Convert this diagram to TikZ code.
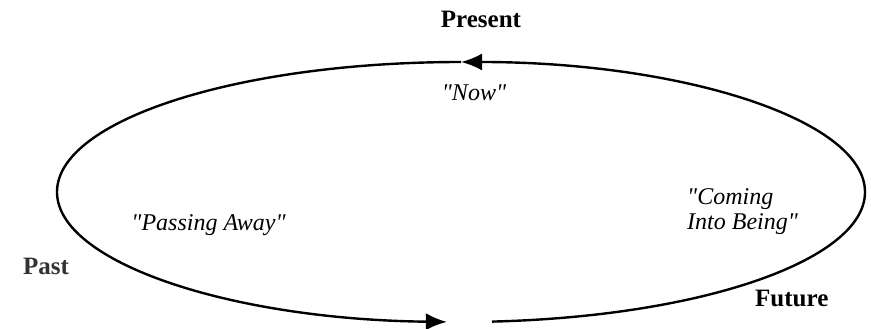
\documentclass[tikz,border=0pt]{standalone}
\usepackage{fontspec}
\setmainfont{Liberation Serif}[Ligatures=TeXOff]
\usetikzlibrary{arrows.meta}

\begin{document}
\begin{tikzpicture}[
  x=1pt, y=1pt,
  tense/.style={font=\fontsize{25}{28}\selectfont\bfseries, anchor=base, inner sep=0pt},
  saying/.style={font=\fontsize{24}{25}\selectfont\itshape, inner sep=0pt},
  cycle/.style={line width=2.4pt, -{Latex[length=21pt,width=17pt]}}
]
\useasboundingbox (0,0) rectangle (871,329);
% the round of time
\coordinate (futureend) at (492,7.4);
\coordinate (presentpt) at (461,267);
\draw[cycle] (futureend) arc[start angle=274.4, end angle=450, x radius=404pt, y radius=130pt];
\draw[cycle] (presentpt) arc[start angle=90, end angle=268, x radius=404pt, y radius=130pt];
% labels
\node[tense] (present) at (481,301) {Present};
\node[tense, anchor=base west, text=black!80] (past) at (23,54) {Past};
\node[tense, anchor=base west] (future) at (755,22) {Future};
\node[saying, anchor=base] (now) at (474,228) {"Now"};
\node[saying, anchor=base] (passing) at (208.5,98) {"Passing Away"};
\node[saying, anchor=north west, align=left] (coming) at (687,141) {"Coming\\ Into Being"};
\end{tikzpicture}
\end{document}
